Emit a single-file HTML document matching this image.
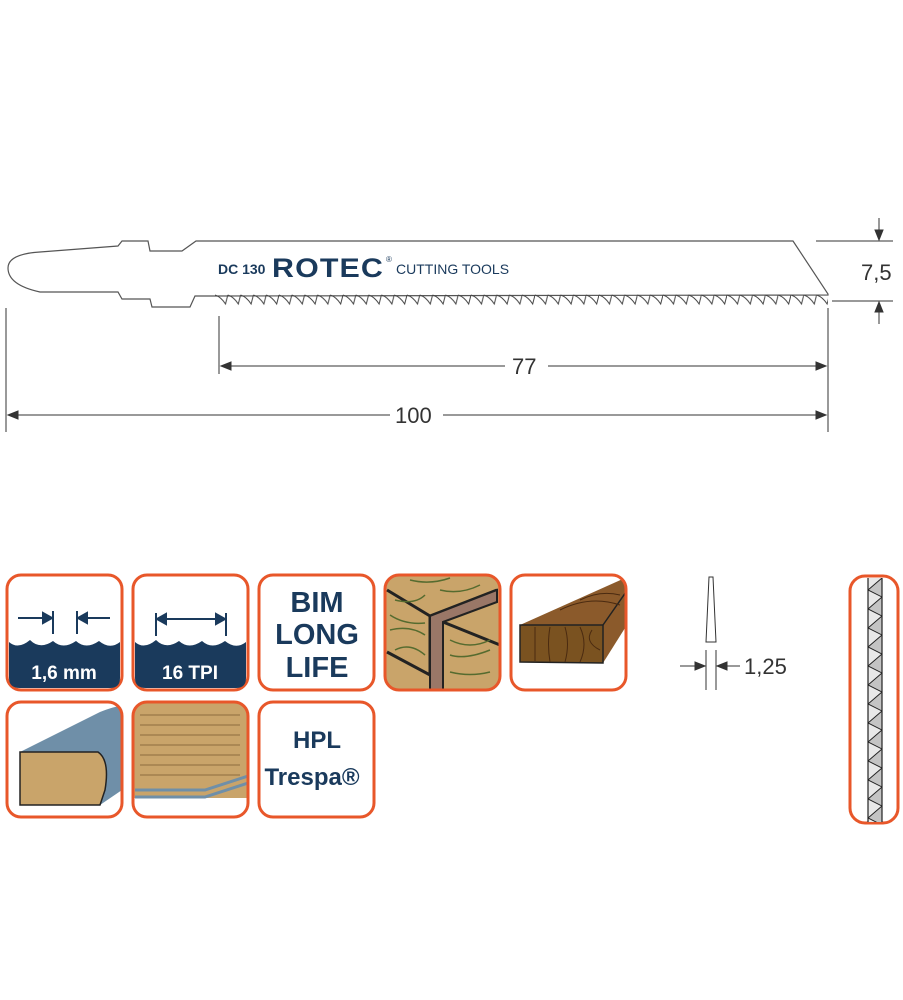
<!DOCTYPE html>
<html><head><style>body{margin:0;background:#fff}svg{display:block}</style></head><body>
<svg width="903" height="1000" viewBox="0 0 903 1000" xmlns="http://www.w3.org/2000/svg" font-family="Liberation Sans, sans-serif">
<defs>
<pattern id="teeth" x="215" y="292" width="12.8" height="14" patternUnits="userSpaceOnUse">
<path d="M0,3 Q6,5 10.5,12 L12.8,3" fill="none" stroke="#444" stroke-width="1"/>
</pattern>
<pattern id="zig" x="868" y="578" width="14" height="38" patternUnits="userSpaceOnUse">
<rect width="14" height="38" fill="#e8e8e8"/>
<path d="M14,0 L0,12 L14,19 Z M14,19 L0,31 L14,38 Z" fill="#c4c4c4" stroke="#222" stroke-width="1"/>
</pattern>
<clipPath id="c4"><rect x="385" y="575" width="115" height="115" rx="14"/></clipPath>
<clipPath id="c5"><rect x="511" y="575" width="115" height="115" rx="14"/></clipPath>
<clipPath id="c6"><rect x="7" y="702" width="115" height="115" rx="14"/></clipPath>
<clipPath id="c7"><rect x="133" y="702" width="115" height="115" rx="14"/></clipPath>
</defs>
<!-- blade -->
<path d="M213,296 L195,296 L190,307 L152,307 L150,299 L122,299 L118,292 L40,292 Q8,285 8,268 Q8,254 40,252 L118,246 L122,241 L148,241 L150,251 L182,251 L196,241 L793,241 L828,294 L828,295 L213,296" fill="#fff" stroke="#555" stroke-width="1.2"/>
<rect x="215" y="293" width="613" height="13" fill="url(#teeth)"/>
<text x="218" y="274" font-size="14" font-weight="bold" fill="#1a3a5c">DC 130</text>
<text x="272" y="277" font-size="27" font-weight="bold" fill="#1a3a5c" letter-spacing="1" textLength="112" lengthAdjust="spacingAndGlyphs">ROTEC</text>
<text x="386" y="262" font-size="8" fill="#1a3a5c">®</text>
<text x="396" y="274" font-size="14" fill="#1a3a5c">CUTTING TOOLS</text>
<!-- dimensions -->
<g stroke="#333" stroke-width="1" fill="#333">
<line x1="6" y1="308" x2="6" y2="432"/><line x1="219" y1="316" x2="219" y2="374"/><line x1="828" y1="308" x2="828" y2="432"/>
<line x1="221" y1="366" x2="505" y2="366"/><line x1="548" y1="366" x2="826" y2="366"/>
<line x1="8" y1="415" x2="390" y2="415"/><line x1="443" y1="415" x2="826" y2="415"/>
<line x1="816" y1="241" x2="893" y2="241"/><line x1="832" y1="301" x2="893" y2="301"/>
<line x1="879" y1="218" x2="879" y2="238"/><line x1="879" y1="304" x2="879" y2="324"/>
<path d="M221,366 l10,-4 v8z M826,366 l-10,-4 v8z M8,415 l10,-4 v8z M826,415 l-10,-4 v8z M879,240 l-4,-10 h8z M879,302 l-4,10 h8z"/>
</g>
<text x="512" y="374" font-size="22" fill="#333">77</text>
<text x="395" y="423" font-size="22" fill="#333">100</text>
<text x="861" y="280" font-size="22" fill="#333">7,5</text>
<!-- box 4 wood joint -->
<g clip-path="url(#c4)">
<rect x="385" y="575" width="115" height="115" fill="#c9a46a"/>
<path d="M387,590 L430,616 L497,590 M430,616 L430,675 L387,652" fill="none" stroke="#222" stroke-width="3"/>
<path d="M430,616 L497,590 L497,602 L443,622 L443,692 L430,692Z" fill="#9a7767" stroke="#222" stroke-width="2"/>
<path d="M443,622 L500,645" stroke="#222" stroke-width="3" fill="none"/>
<g stroke="#556b2f" stroke-width="1.5" fill="none"><path d="M395,600 q20,5 30,-5 M390,615 q15,10 35,8 M390,630 q20,-5 35,5 M395,650 q15,-8 30,5 M450,640 q20,10 40,0 M450,655 q15,5 40,-5 M450,672 q20,5 40,0 M440,590 q20,5 40,-5 M410,580 q20,5 40,-2"/></g>
</g>
<!-- box 5 timber -->
<g clip-path="url(#c5)">
<path d="M520,625 L625,578 L625,628 L603,663 L520,662Z" fill="#8b5a2b"/>
<path d="M603,625 L626,592" fill="none" stroke="#222" stroke-width="1.5"/>
<path d="M520,625 L603,625 L603,663 L520,662Z" fill="#7a5220" stroke="#222" stroke-width="1.5"/>
<g stroke="#4a2a10" stroke-width="1" fill="none"><path d="M535,627 v34 M550,627 q-3,17 0,35 M565,627 q5,17 0,35 M580,627 q8,17 0,35 M592,630 q-8,12 8,20 M560,610 q30,-15 60,-5 M580,600 q20,-10 40,-5"/></g>
</g>
<!-- box 6 -->
<g clip-path="url(#c6)">
<path d="M20,752 L100,712 Q115,706 122,706 L122,790 L100,805 L20,805Z" fill="#6f8fa8"/>
<path d="M20,752 L98,752 Q110,760 105,790 L100,805 L20,805Z" fill="#c9a46a" stroke="#222" stroke-width="1.5"/>
</g>
<!-- box 7 -->
<g clip-path="url(#c7)">
<rect x="133" y="702" width="115" height="115" fill="#c9a46a"/>
<rect x="133" y="798" width="115" height="20" fill="#fff"/>
<path d="M135,790 L205,790 L248,776 M135,797 L205,797 L248,783" fill="none" stroke="#6f8fa8" stroke-width="3"/>
<g stroke="#7a5a30" stroke-width="0.8"><path d="M140,715 h100 M140,725 h100 M140,735 h100 M140,745 h100 M140,755 h100 M140,765 h100 M140,775 h100"/></g>
</g>
<!-- boxes -->
<g fill="none" stroke="#e8572a" stroke-width="3">
<rect x="7" y="575" width="115" height="115" rx="14" fill="#fff"/>
<rect x="133" y="575" width="115" height="115" rx="14" fill="#fff"/>
<rect x="259" y="575" width="115" height="115" rx="14" fill="#fff"/>
<rect x="385" y="575" width="115" height="115" rx="14"/>
<rect x="511" y="575" width="115" height="115" rx="14"/>
<rect x="7" y="702" width="115" height="115" rx="14"/>
<rect x="133" y="702" width="115" height="115" rx="14"/>
<rect x="259" y="702" width="115" height="115" rx="14" fill="#fff"/>
</g>
<!-- box 1 -->
<path d="M9,642 Q18,650 30,640 Q40,650 53,641 Q63,650 76,641 Q86,650 99,641 Q110,650 120,642 L120,678 Q120,688 110,688 L20,688 Q9,688 9,678Z" fill="#1a3a5c"/>
<text x="64" y="679" font-size="19" font-weight="bold" fill="#fff" text-anchor="middle">1,6 mm</text>
<g stroke="#1a3a5c" stroke-width="2" fill="#1a3a5c"><line x1="18" y1="618" x2="50" y2="618"/><line x1="53" y1="611" x2="53" y2="634"/><line x1="77" y1="611" x2="77" y2="634"/><line x1="80" y1="618" x2="110" y2="618"/><path d="M52,618 l-9,-5 v10z M78,618 l9,-5 v10z"/></g>
<!-- box 2 -->
<path d="M135,642 Q144,650 156,640 Q166,650 179,641 Q189,650 202,641 Q212,650 225,641 Q236,650 246,642 L246,678 Q246,688 236,688 L146,688 Q135,688 135,678Z" fill="#1a3a5c"/>
<text x="190" y="679" font-size="19" font-weight="bold" fill="#fff" text-anchor="middle">16 TPI</text>
<g stroke="#1a3a5c" stroke-width="2" fill="#1a3a5c"><line x1="156" y1="613" x2="156" y2="636"/><line x1="226" y1="613" x2="226" y2="636"/><line x1="160" y1="619" x2="222" y2="619"/><path d="M157,619 l9,-5 v10z M225,619 l-9,-5 v10z"/></g>
<!-- box 3 -->
<g font-size="29" font-weight="bold" fill="#1a3a5c" text-anchor="middle"><text x="317" y="612">BIM</text><text x="317" y="644">LONG</text><text x="317" y="677">LIFE</text></g>
<!-- box 8 -->
<g font-size="24" font-weight="bold" fill="#1a3a5c" text-anchor="middle"><text x="317" y="748">HPL</text><text x="312" y="785">Trespa®</text></g>
<!-- thickness -->
<path d="M706,642 L709,577 L713,577 L716,642Z" fill="#fff" stroke="#333" stroke-width="1"/>
<g stroke="#333" stroke-width="1" fill="#333"><line x1="706" y1="650" x2="706" y2="690"/><line x1="716" y1="650" x2="716" y2="690"/><line x1="680" y1="666" x2="704" y2="666"/><line x1="718" y1="666" x2="740" y2="666"/><path d="M705,666 l-10,-4 v8z M717,666 l10,-4 v8z"/></g>
<text x="744" y="674" font-size="22" fill="#333">1,25</text>
<!-- side strip -->
<rect x="850" y="576" width="48" height="247" rx="15" fill="#fff" stroke="#e8572a" stroke-width="3"/>
<rect x="868" y="578" width="14" height="244" fill="url(#zig)"/>
<line x1="868" y1="578" x2="868" y2="822" stroke="#222" stroke-width="1.2"/><line x1="882" y1="578" x2="882" y2="822" stroke="#222" stroke-width="1.2"/>
</svg>
</body></html>
